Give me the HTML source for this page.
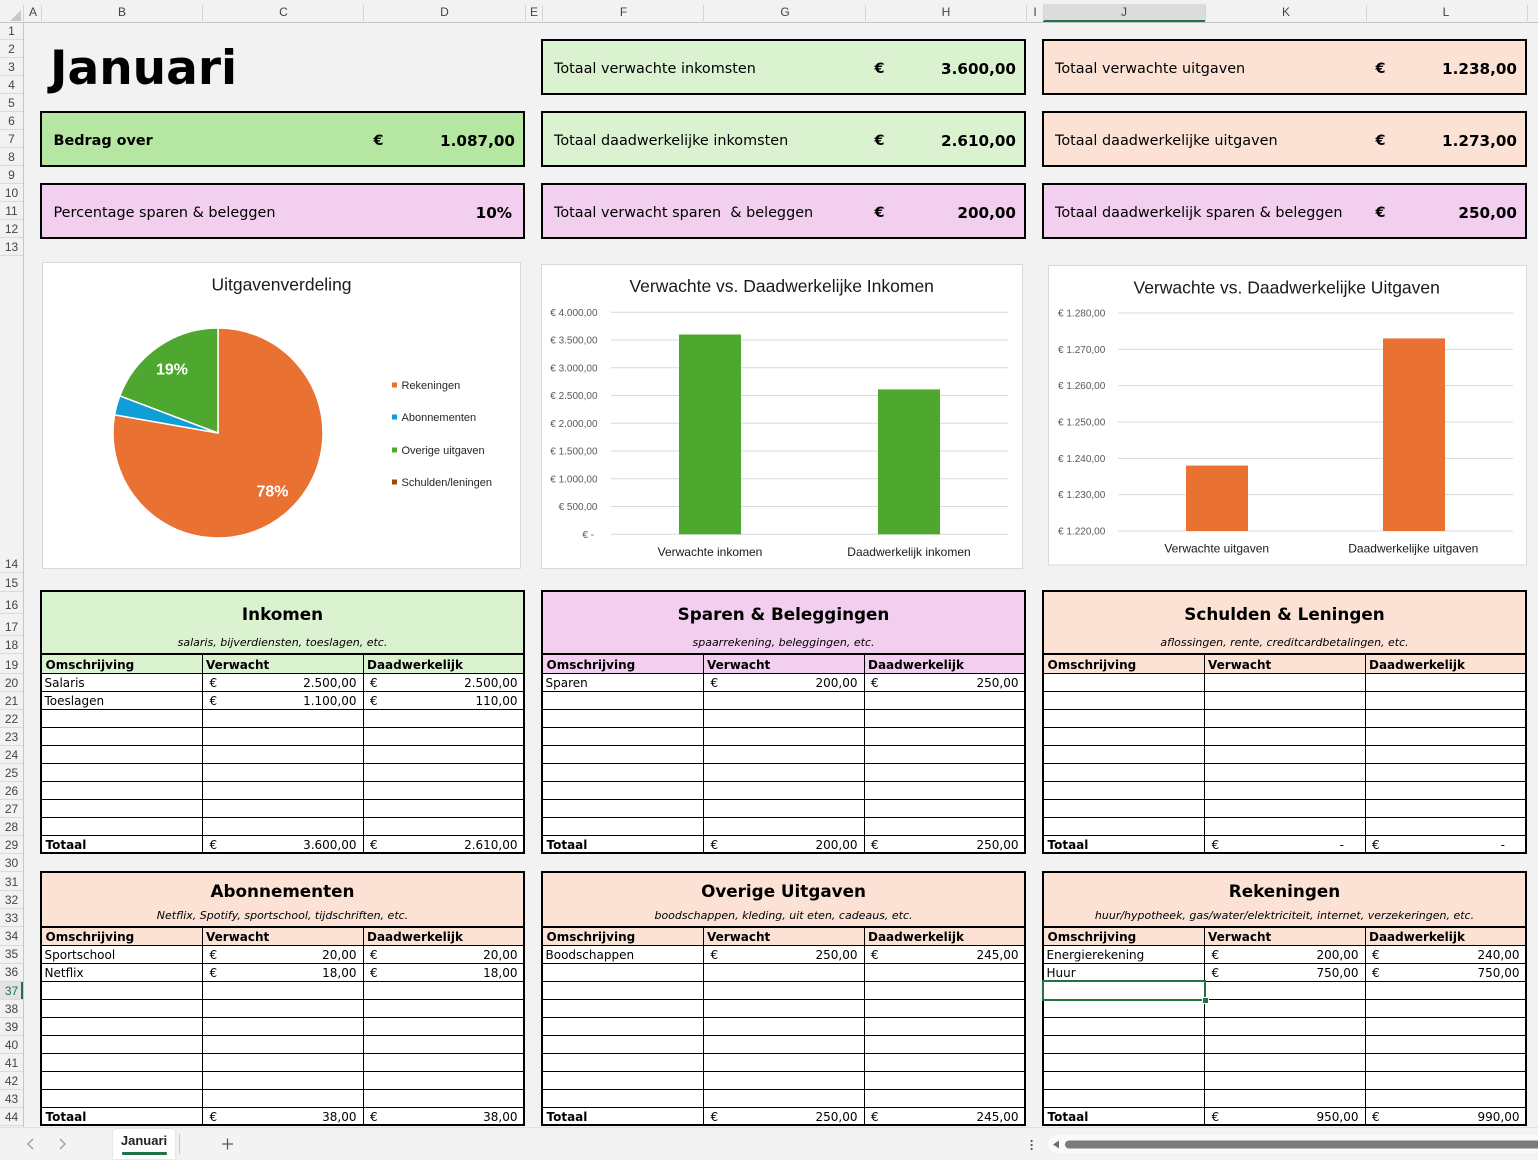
<!DOCTYPE html>
<html><head><meta charset="utf-8">
<style>
body{margin:0;width:1538px;height:1159px;background:#f2f2f2;position:relative;overflow:hidden;font-family:"DejaVu Sans",Verdana,sans-serif;color:#000;}
.a{position:absolute;}
.t{position:absolute;white-space:nowrap;height:20px;line-height:20px;}
.c14{font-size:14.4px;}
.v{font-size:15.2px;font-weight:bold;}
.c12{font-size:12px;}
.b{font-weight:bold;}
.card{position:absolute;box-sizing:border-box;border:2px solid #000;width:485px;height:56px;}
.box{position:absolute;box-sizing:border-box;border:2px solid #000;width:485px;background:#fff;}
.hl{position:absolute;height:1px;width:481px;background:#000;}
.vl{position:absolute;width:1px;background:#000;}
.ttl{position:absolute;width:485px;text-align:center;white-space:nowrap;height:24px;line-height:24px;font-size:16.8px;font-weight:bold;}
.sub{position:absolute;width:485px;text-align:center;white-space:nowrap;height:20px;line-height:20px;font-size:11px;font-style:italic;}
.rh{position:absolute;left:0;width:23px;text-align:center;height:16px;line-height:16px;font:12px "Liberation Sans",sans-serif;color:#444;margin-top:1px;}
.ch{position:absolute;top:5px;height:16px;line-height:16px;font:12px "Liberation Sans",sans-serif;color:#444;text-align:center;width:20px;margin-left:-10px;}
.rs{position:absolute;left:0;width:23px;height:1px;background:#dadada;}
.cs{position:absolute;top:5px;width:1px;height:16px;background:#d4d4d4;}
</style></head><body>

<!-- column header -->
<div class="a" style="left:0;top:0;width:1538px;height:22px;background:#f2f2f2;border-bottom:1px solid #c6c6c6;"></div>
<div class="a" style="left:1043px;top:4px;width:162px;height:18px;background:#dcdcdc;"></div>
<div class="a" style="left:1043px;top:20px;width:162px;height:2px;background:#217346;"></div>
<svg class="a" style="left:0;top:0" width="24" height="23"><polygon points="21,10 21,21 10,21" fill="#c8c8c8"/></svg>
<div class="cs" style="left:23px"></div><div class="cs" style="left:41px"></div><div class="cs" style="left:202px"></div><div class="cs" style="left:363px"></div><div class="cs" style="left:525px"></div><div class="cs" style="left:542px"></div><div class="cs" style="left:703px"></div><div class="cs" style="left:865px"></div><div class="cs" style="left:1026px"></div><div class="cs" style="left:1043px"></div><div class="cs" style="left:1205px"></div><div class="cs" style="left:1366px"></div><div class="cs" style="left:1527px"></div>
<div class="ch" style="left:33px">A</div><div class="ch" style="left:122px">B</div><div class="ch" style="left:283.5px">C</div><div class="ch" style="left:444.5px">D</div><div class="ch" style="left:534px">E</div><div class="ch" style="left:623.5px">F</div><div class="ch" style="left:785px">G</div><div class="ch" style="left:946px">H</div><div class="ch" style="left:1035px">I</div><div class="ch" style="left:1124px">J</div><div class="ch" style="left:1286px">K</div><div class="ch" style="left:1446px">L</div>

<!-- row header -->
<div class="a" style="left:23px;top:22px;width:1px;height:1105px;background:#c6c6c6;"></div>
<div class="a" style="left:0;top:981px;width:23px;height:18px;background:#e3e3e3;"></div>
<div class="a" style="left:21px;top:981px;width:2px;height:18px;background:#217346;"></div>
<div class="rh" style="top:23px">1</div><div class="rs" style="top:39px"></div>
<div class="rh" style="top:41px">2</div><div class="rs" style="top:57px"></div>
<div class="rh" style="top:59px">3</div><div class="rs" style="top:75px"></div>
<div class="rh" style="top:77px">4</div><div class="rs" style="top:93px"></div>
<div class="rh" style="top:95px">5</div><div class="rs" style="top:111px"></div>
<div class="rh" style="top:113px">6</div><div class="rs" style="top:129px"></div>
<div class="rh" style="top:131px">7</div><div class="rs" style="top:147px"></div>
<div class="rh" style="top:149px">8</div><div class="rs" style="top:165px"></div>
<div class="rh" style="top:167px">9</div><div class="rs" style="top:183px"></div>
<div class="rh" style="top:185px">10</div><div class="rs" style="top:201px"></div>
<div class="rh" style="top:203px">11</div><div class="rs" style="top:219px"></div>
<div class="rh" style="top:221px">12</div><div class="rs" style="top:237px"></div>
<div class="rh" style="top:239px">13</div><div class="rs" style="top:255px"></div>
<div class="rh" style="top:556px">14</div><div class="rs" style="top:572px"></div>
<div class="rh" style="top:575px">15</div><div class="rs" style="top:591px"></div>
<div class="rh" style="top:597px">16</div><div class="rs" style="top:613px"></div>
<div class="rh" style="top:619px">17</div><div class="rs" style="top:635px"></div>
<div class="rh" style="top:637px">18</div><div class="rs" style="top:653px"></div>
<div class="rh" style="top:657px">19</div><div class="rs" style="top:673px"></div>
<div class="rh" style="top:675px">20</div><div class="rs" style="top:691px"></div>
<div class="rh" style="top:693px">21</div><div class="rs" style="top:709px"></div>
<div class="rh" style="top:711px">22</div><div class="rs" style="top:727px"></div>
<div class="rh" style="top:729px">23</div><div class="rs" style="top:745px"></div>
<div class="rh" style="top:747px">24</div><div class="rs" style="top:763px"></div>
<div class="rh" style="top:765px">25</div><div class="rs" style="top:781px"></div>
<div class="rh" style="top:783px">26</div><div class="rs" style="top:799px"></div>
<div class="rh" style="top:801px">27</div><div class="rs" style="top:817px"></div>
<div class="rh" style="top:819px">28</div><div class="rs" style="top:835px"></div>
<div class="rh" style="top:837px">29</div><div class="rs" style="top:853px"></div>
<div class="rh" style="top:855px">30</div><div class="rs" style="top:871px"></div>
<div class="rh" style="top:874px">31</div><div class="rs" style="top:890px"></div>
<div class="rh" style="top:892px">32</div><div class="rs" style="top:908px"></div>
<div class="rh" style="top:910px">33</div><div class="rs" style="top:926px"></div>
<div class="rh" style="top:928px">34</div><div class="rs" style="top:945px"></div>
<div class="rh" style="top:946px">35</div><div class="rs" style="top:963px"></div>
<div class="rh" style="top:964px">36</div><div class="rs" style="top:981px"></div>
<div class="rh" style="top:983px;color:#217346">37</div><div class="rs" style="top:999px"></div>
<div class="rh" style="top:1001px">38</div><div class="rs" style="top:1017px"></div>
<div class="rh" style="top:1019px">39</div><div class="rs" style="top:1035px"></div>
<div class="rh" style="top:1037px">40</div><div class="rs" style="top:1053px"></div>
<div class="rh" style="top:1055px">41</div><div class="rs" style="top:1071px"></div>
<div class="rh" style="top:1073px">42</div><div class="rs" style="top:1089px"></div>
<div class="rh" style="top:1091px">43</div><div class="rs" style="top:1107px"></div>
<div class="rh" style="top:1109px">44</div><div class="rs" style="top:1125px"></div>

<!-- Title -->
<div class="a" style="left:50px;top:44px;height:50px;line-height:50px;font-size:47px;font-weight:bold;white-space:nowrap;">Januari</div>

<!-- Cards -->
<div class="card" style="left:541px;top:39px;background:#daf2d0"></div>
<div class="card" style="left:1042px;top:39px;background:#fbe2d5"></div>
<div class="card" style="left:40px;top:111px;background:#b5e6a2"></div>
<div class="card" style="left:541px;top:111px;background:#daf2d0"></div>
<div class="card" style="left:1042px;top:111px;background:#fbe2d5"></div>
<div class="card" style="left:40px;top:183px;background:#f2ceef"></div>
<div class="card" style="left:541px;top:183px;background:#f2ceef"></div>
<div class="card" style="left:1042px;top:183px;background:#f2ceef"></div>

<div class="t c14" style="left:554px;top:59px">Totaal verwachte inkomsten</div>
<div class="t c14 b" style="left:874.5px;top:59px">€</div>
<div class="t v" style="right:522px;top:59px">3.600,00</div>
<div class="t c14" style="left:1055px;top:59px">Totaal verwachte uitgaven</div>
<div class="t c14 b" style="left:1375.5px;top:59px">€</div>
<div class="t v" style="right:21px;top:59px">1.238,00</div>

<div class="t c14 b" style="left:53.5px;top:131px">Bedrag over</div>
<div class="t c14 b" style="left:373.5px;top:131px">€</div>
<div class="t v" style="right:1023px;top:131px">1.087,00</div>
<div class="t c14" style="left:554px;top:131px">Totaal daadwerkelijke inkomsten</div>
<div class="t c14 b" style="left:874.5px;top:131px">€</div>
<div class="t v" style="right:522px;top:131px">2.610,00</div>
<div class="t c14" style="left:1055px;top:131px">Totaal daadwerkelijke uitgaven</div>
<div class="t c14 b" style="left:1375.5px;top:131px">€</div>
<div class="t v" style="right:21px;top:131px">1.273,00</div>

<div class="t c14" style="left:53.5px;top:203px">Percentage sparen &amp; beleggen</div>
<div class="t v" style="right:1026px;top:203px">10%</div>
<div class="t c14" style="left:554px;top:203px">Totaal verwacht sparen &nbsp;&amp; beleggen</div>
<div class="t c14 b" style="left:874.5px;top:203px">€</div>
<div class="t v" style="right:522px;top:203px">200,00</div>
<div class="t c14" style="left:1055px;top:203px">Totaal daadwerkelijk sparen &amp; beleggen</div>
<div class="t c14 b" style="left:1375.5px;top:203px">€</div>
<div class="t v" style="right:21px;top:203px">250,00</div>

<!-- ===== TOP TABLES ===== -->
<!-- Inkomen L=40 -->
<div class="box" style="left:40px;top:590px;height:264px"></div>
<div class="a" style="left:42px;top:592px;width:481px;height:61px;background:#daf2d0"></div>
<div class="a" style="left:42px;top:653px;width:481px;height:2px;background:#000"></div>
<div class="a" style="left:42px;top:655px;width:481px;height:18px;background:#daf2d0"></div>
<div class="hl" style="left:42px;top:673px"></div><div class="hl" style="left:42px;top:691px"></div><div class="hl" style="left:42px;top:709px"></div><div class="hl" style="left:42px;top:727px"></div><div class="hl" style="left:42px;top:745px"></div><div class="hl" style="left:42px;top:763px"></div><div class="hl" style="left:42px;top:781px"></div><div class="hl" style="left:42px;top:799px"></div><div class="hl" style="left:42px;top:817px"></div><div class="hl" style="left:42px;top:835px"></div>
<div class="vl" style="left:202px;top:655px;height:197px"></div><div class="vl" style="left:363px;top:655px;height:197px"></div>
<div class="ttl" style="left:40px;top:602px">Inkomen</div>
<div class="sub" style="left:40px;top:633px">salaris, bijverdiensten, toeslagen, etc.</div>
<div class="t c12 b" style="left:45.5px;top:655px">Omschrijving</div>
<div class="t c12 b" style="left:206px;top:655px">Verwacht</div>
<div class="t c12 b" style="left:367px;top:655px">Daadwerkelijk</div>
<div class="t c12" style="left:44.5px;top:672.5px">Salaris</div>
<div class="t c12" style="left:209.5px;top:672.5px">€</div>
<div class="t c12" style="right:1181.5px;top:672.5px">2.500,00</div>
<div class="t c12" style="left:370px;top:672.5px">€</div>
<div class="t c12" style="right:1020.5px;top:672.5px">2.500,00</div>
<div class="t c12" style="left:44.5px;top:690.5px">Toeslagen</div>
<div class="t c12" style="left:209.5px;top:690.5px">€</div>
<div class="t c12" style="right:1181.5px;top:690.5px">1.100,00</div>
<div class="t c12" style="left:370px;top:690.5px">€</div>
<div class="t c12" style="right:1020.5px;top:690.5px">110,00</div>
<div class="t c12 b" style="left:45.5px;top:834.5px">Totaal</div>
<div class="t c12" style="left:209.5px;top:834.5px">€</div>
<div class="t c12" style="right:1181.5px;top:834.5px">3.600,00</div>
<div class="t c12" style="left:370px;top:834.5px">€</div>
<div class="t c12" style="right:1020.5px;top:834.5px">2.610,00</div>

<!-- Sparen L=541 -->
<div class="box" style="left:541px;top:590px;height:264px"></div>
<div class="a" style="left:543px;top:592px;width:481px;height:61px;background:#f2ceef"></div>
<div class="a" style="left:543px;top:653px;width:481px;height:2px;background:#000"></div>
<div class="a" style="left:543px;top:655px;width:481px;height:18px;background:#f2ceef"></div>
<div class="hl" style="left:543px;top:673px"></div><div class="hl" style="left:543px;top:691px"></div><div class="hl" style="left:543px;top:709px"></div><div class="hl" style="left:543px;top:727px"></div><div class="hl" style="left:543px;top:745px"></div><div class="hl" style="left:543px;top:763px"></div><div class="hl" style="left:543px;top:781px"></div><div class="hl" style="left:543px;top:799px"></div><div class="hl" style="left:543px;top:817px"></div><div class="hl" style="left:543px;top:835px"></div>
<div class="vl" style="left:703px;top:655px;height:197px"></div><div class="vl" style="left:864px;top:655px;height:197px"></div>
<div class="ttl" style="left:541px;top:602px">Sparen &amp; Beleggingen</div>
<div class="sub" style="left:541px;top:633px">spaarrekening, beleggingen, etc.</div>
<div class="t c12 b" style="left:546.5px;top:655px">Omschrijving</div>
<div class="t c12 b" style="left:707px;top:655px">Verwacht</div>
<div class="t c12 b" style="left:868px;top:655px">Daadwerkelijk</div>
<div class="t c12" style="left:545.5px;top:672.5px">Sparen</div>
<div class="t c12" style="left:710.5px;top:672.5px">€</div>
<div class="t c12" style="right:680.5px;top:672.5px">200,00</div>
<div class="t c12" style="left:871px;top:672.5px">€</div>
<div class="t c12" style="right:519.5px;top:672.5px">250,00</div>
<div class="t c12 b" style="left:546.5px;top:834.5px">Totaal</div>
<div class="t c12" style="left:710.5px;top:834.5px">€</div>
<div class="t c12" style="right:680.5px;top:834.5px">200,00</div>
<div class="t c12" style="left:871px;top:834.5px">€</div>
<div class="t c12" style="right:519.5px;top:834.5px">250,00</div>

<!-- Schulden L=1042 -->
<div class="box" style="left:1042px;top:590px;height:264px"></div>
<div class="a" style="left:1044px;top:592px;width:481px;height:61px;background:#fbe2d5"></div>
<div class="a" style="left:1044px;top:653px;width:481px;height:2px;background:#000"></div>
<div class="a" style="left:1044px;top:655px;width:481px;height:18px;background:#fbe2d5"></div>
<div class="hl" style="left:1044px;top:673px"></div><div class="hl" style="left:1044px;top:691px"></div><div class="hl" style="left:1044px;top:709px"></div><div class="hl" style="left:1044px;top:727px"></div><div class="hl" style="left:1044px;top:745px"></div><div class="hl" style="left:1044px;top:763px"></div><div class="hl" style="left:1044px;top:781px"></div><div class="hl" style="left:1044px;top:799px"></div><div class="hl" style="left:1044px;top:817px"></div><div class="hl" style="left:1044px;top:835px"></div>
<div class="vl" style="left:1204px;top:655px;height:197px"></div><div class="vl" style="left:1365px;top:655px;height:197px"></div>
<div class="ttl" style="left:1042px;top:602px">Schulden &amp; Leningen</div>
<div class="sub" style="left:1042px;top:633px">aflossingen, rente, creditcardbetalingen, etc.</div>
<div class="t c12 b" style="left:1047.5px;top:655px">Omschrijving</div>
<div class="t c12 b" style="left:1208px;top:655px">Verwacht</div>
<div class="t c12 b" style="left:1369px;top:655px">Daadwerkelijk</div>
<div class="t c12 b" style="left:1047.5px;top:834.5px">Totaal</div>
<div class="t c12" style="left:1211.5px;top:834.5px">€</div>
<div class="t c12" style="right:194px;top:834.5px">-</div>
<div class="t c12" style="left:1372px;top:834.5px">€</div>
<div class="t c12" style="right:33px;top:834.5px">-</div>

<!-- ===== BOTTOM TABLES ===== -->
<!-- Abonnementen L=40 -->
<div class="box" style="left:40px;top:871px;height:255px"></div>
<div class="a" style="left:42px;top:873px;width:481px;height:53px;background:#fbe2d5"></div>
<div class="a" style="left:42px;top:926px;width:481px;height:2px;background:#000"></div>
<div class="a" style="left:42px;top:928px;width:481px;height:17px;background:#fbe2d5"></div>
<div class="hl" style="left:42px;top:945px"></div><div class="hl" style="left:42px;top:963px"></div><div class="hl" style="left:42px;top:981px"></div><div class="hl" style="left:42px;top:999px"></div><div class="hl" style="left:42px;top:1017px"></div><div class="hl" style="left:42px;top:1035px"></div><div class="hl" style="left:42px;top:1053px"></div><div class="hl" style="left:42px;top:1071px"></div><div class="hl" style="left:42px;top:1089px"></div><div class="hl" style="left:42px;top:1107px"></div>
<div class="vl" style="left:202px;top:928px;height:196px"></div><div class="vl" style="left:363px;top:928px;height:196px"></div>
<div class="ttl" style="left:40px;top:879px">Abonnementen</div>
<div class="sub" style="left:40px;top:906px">Netflix, Spotify, sportschool, tijdschriften, etc.</div>
<div class="t c12 b" style="left:45.5px;top:927px">Omschrijving</div>
<div class="t c12 b" style="left:206px;top:927px">Verwacht</div>
<div class="t c12 b" style="left:367px;top:927px">Daadwerkelijk</div>
<div class="t c12" style="left:44.5px;top:944.5px">Sportschool</div>
<div class="t c12" style="left:209.5px;top:944.5px">€</div>
<div class="t c12" style="right:1181.5px;top:944.5px">20,00</div>
<div class="t c12" style="left:370px;top:944.5px">€</div>
<div class="t c12" style="right:1020.5px;top:944.5px">20,00</div>
<div class="t c12" style="left:44.5px;top:962.5px">Netflix</div>
<div class="t c12" style="left:209.5px;top:962.5px">€</div>
<div class="t c12" style="right:1181.5px;top:962.5px">18,00</div>
<div class="t c12" style="left:370px;top:962.5px">€</div>
<div class="t c12" style="right:1020.5px;top:962.5px">18,00</div>
<div class="t c12 b" style="left:45.5px;top:1106.5px">Totaal</div>
<div class="t c12" style="left:209.5px;top:1106.5px">€</div>
<div class="t c12" style="right:1181.5px;top:1106.5px">38,00</div>
<div class="t c12" style="left:370px;top:1106.5px">€</div>
<div class="t c12" style="right:1020.5px;top:1106.5px">38,00</div>

<!-- Overige L=541 -->
<div class="box" style="left:541px;top:871px;height:255px"></div>
<div class="a" style="left:543px;top:873px;width:481px;height:53px;background:#fbe2d5"></div>
<div class="a" style="left:543px;top:926px;width:481px;height:2px;background:#000"></div>
<div class="a" style="left:543px;top:928px;width:481px;height:17px;background:#fbe2d5"></div>
<div class="hl" style="left:543px;top:945px"></div><div class="hl" style="left:543px;top:963px"></div><div class="hl" style="left:543px;top:981px"></div><div class="hl" style="left:543px;top:999px"></div><div class="hl" style="left:543px;top:1017px"></div><div class="hl" style="left:543px;top:1035px"></div><div class="hl" style="left:543px;top:1053px"></div><div class="hl" style="left:543px;top:1071px"></div><div class="hl" style="left:543px;top:1089px"></div><div class="hl" style="left:543px;top:1107px"></div>
<div class="vl" style="left:703px;top:928px;height:196px"></div><div class="vl" style="left:864px;top:928px;height:196px"></div>
<div class="ttl" style="left:541px;top:879px">Overige Uitgaven</div>
<div class="sub" style="left:541px;top:906px">boodschappen, kleding, uit eten, cadeaus, etc.</div>
<div class="t c12 b" style="left:546.5px;top:927px">Omschrijving</div>
<div class="t c12 b" style="left:707px;top:927px">Verwacht</div>
<div class="t c12 b" style="left:868px;top:927px">Daadwerkelijk</div>
<div class="t c12" style="left:545.5px;top:944.5px">Boodschappen</div>
<div class="t c12" style="left:710.5px;top:944.5px">€</div>
<div class="t c12" style="right:680.5px;top:944.5px">250,00</div>
<div class="t c12" style="left:871px;top:944.5px">€</div>
<div class="t c12" style="right:519.5px;top:944.5px">245,00</div>
<div class="t c12 b" style="left:546.5px;top:1106.5px">Totaal</div>
<div class="t c12" style="left:710.5px;top:1106.5px">€</div>
<div class="t c12" style="right:680.5px;top:1106.5px">250,00</div>
<div class="t c12" style="left:871px;top:1106.5px">€</div>
<div class="t c12" style="right:519.5px;top:1106.5px">245,00</div>

<!-- Rekeningen L=1042 -->
<div class="box" style="left:1042px;top:871px;height:255px"></div>
<div class="a" style="left:1044px;top:873px;width:481px;height:53px;background:#fbe2d5"></div>
<div class="a" style="left:1044px;top:926px;width:481px;height:2px;background:#000"></div>
<div class="a" style="left:1044px;top:928px;width:481px;height:17px;background:#fbe2d5"></div>
<div class="hl" style="left:1044px;top:945px"></div><div class="hl" style="left:1044px;top:963px"></div><div class="hl" style="left:1044px;top:981px"></div><div class="hl" style="left:1044px;top:999px"></div><div class="hl" style="left:1044px;top:1017px"></div><div class="hl" style="left:1044px;top:1035px"></div><div class="hl" style="left:1044px;top:1053px"></div><div class="hl" style="left:1044px;top:1071px"></div><div class="hl" style="left:1044px;top:1089px"></div><div class="hl" style="left:1044px;top:1107px"></div>
<div class="vl" style="left:1204px;top:928px;height:196px"></div><div class="vl" style="left:1365px;top:928px;height:196px"></div>
<div class="ttl" style="left:1042px;top:879px">Rekeningen</div>
<div class="sub" style="left:1042px;top:906px">huur/hypotheek, gas/water/elektriciteit, internet, verzekeringen, etc.</div>
<div class="t c12 b" style="left:1047.5px;top:927px">Omschrijving</div>
<div class="t c12 b" style="left:1208px;top:927px">Verwacht</div>
<div class="t c12 b" style="left:1369px;top:927px">Daadwerkelijk</div>
<div class="t c12" style="left:1046.5px;top:944.5px">Energierekening</div>
<div class="t c12" style="left:1211.5px;top:944.5px">€</div>
<div class="t c12" style="right:179.5px;top:944.5px">200,00</div>
<div class="t c12" style="left:1372px;top:944.5px">€</div>
<div class="t c12" style="right:18.5px;top:944.5px">240,00</div>
<div class="t c12" style="left:1046.5px;top:962.5px">Huur</div>
<div class="t c12" style="left:1211.5px;top:962.5px">€</div>
<div class="t c12" style="right:179.5px;top:962.5px">750,00</div>
<div class="t c12" style="left:1372px;top:962.5px">€</div>
<div class="t c12" style="right:18.5px;top:962.5px">750,00</div>
<div class="t c12 b" style="left:1047.5px;top:1106.5px">Totaal</div>
<div class="t c12" style="left:1211.5px;top:1106.5px">€</div>
<div class="t c12" style="right:179.5px;top:1106.5px">950,00</div>
<div class="t c12" style="left:1372px;top:1106.5px">€</div>
<div class="t c12" style="right:18.5px;top:1106.5px">990,00</div>

<!-- selected cell J37 -->
<div class="a" style="left:1042px;top:980px;width:164px;height:21px;box-sizing:border-box;border:2px solid #217346;"></div>
<div class="a" style="left:1202.5px;top:997.5px;width:5px;height:5px;background:#217346;outline:1px solid #fff;"></div>

<!-- tab bar -->
<div class="a" style="left:0;top:1127px;width:1538px;height:32px;background:#f3f3f3;border-top:1px solid #e1e1e1;"></div>
<div class="a" style="left:113px;top:1129px;width:62px;height:30px;background:#fff;border-radius:3px 3px 0 0;box-shadow:0 0 2px rgba(0,0,0,0.15);"></div>
<div class="a" style="left:113px;top:1133px;width:62px;height:20px;line-height:20px;text-align:center;font:bold 13px 'Liberation Sans',sans-serif;color:#222;">Januari</div>
<div class="a" style="left:122px;top:1152px;width:45px;height:2.5px;background:#217346;border-radius:1px;"></div>
<div class="a" style="left:179px;top:1134px;width:1px;height:20px;background:#c8c8c8;"></div>
<div class="a" style="left:1048px;top:1135px;width:490px;height:18px;background:#fafafa;border-radius:9px 0 0 9px;"></div>

<svg class="a" style="left:0;top:0" width="1538" height="1159" font-family="'Liberation Sans',Arial,sans-serif">
 <!-- tab bar icons -->
 <polyline points="33,1139 28,1144 33,1149" fill="none" stroke="#9a9a9a" stroke-width="1.3"/>
 <polyline points="60,1139 65,1144 60,1149" fill="none" stroke="#9a9a9a" stroke-width="1.3"/>
 <line x1="222" y1="1144" x2="233" y2="1144" stroke="#555" stroke-width="1.2"/>
 <line x1="227.5" y1="1138.5" x2="227.5" y2="1149.5" stroke="#555" stroke-width="1.2"/>
 <circle cx="1031.6" cy="1141" r="1.1" fill="#555"/><circle cx="1031.6" cy="1145" r="1.1" fill="#555"/><circle cx="1031.6" cy="1149" r="1.1" fill="#555"/>
 <polygon points="1059,1140.5 1053,1144.5 1059,1148.5" fill="#6e6e6e"/>
 <rect x="1065" y="1140.5" width="480" height="8" rx="4" fill="#7b7b7b"/>

 <!-- Pie chart -->
 <rect x="42.5" y="262.5" width="478" height="306" fill="#fff" stroke="#d9d9d9"/>
 <text x="281.5" y="290.5" text-anchor="middle" font-size="17.5" fill="#1a1a1a">Uitgavenverdeling</text>
 <path d="M218,433 L218,328 A105,105 0 1,1 114.59,414.82 Z" fill="#e97132" stroke="#fff" stroke-width="1.5"/>
 <path d="M218,433 L114.59,414.82 A105,105 0 0,1 119.79,395.86 Z" fill="#0f9ed5" stroke="#fff" stroke-width="1.5"/>
 <path d="M218,433 L119.79,395.86 A105,105 0 0,1 218,328 Z" fill="#4ea72e" stroke="#fff" stroke-width="1.5"/>
 <text x="172" y="374.7" text-anchor="middle" font-size="16" font-weight="bold" fill="#fff">19%</text>
 <text x="272.5" y="496.5" text-anchor="middle" font-size="16" font-weight="bold" fill="#fff">78%</text>
 <rect x="392" y="382.5" width="5" height="5" fill="#e97132"/>
 <text x="401.5" y="388.9" font-size="11" fill="#262626">Rekeningen</text>
 <rect x="392" y="414.5" width="5" height="5" fill="#0f9ed5"/>
 <text x="401.5" y="420.9" font-size="11" fill="#262626">Abonnementen</text>
 <rect x="392" y="447.5" width="5" height="5" fill="#4ea72e"/>
 <text x="401.5" y="453.9" font-size="11" fill="#262626">Overige uitgaven</text>
 <rect x="392" y="479.5" width="5" height="5" fill="#9e480e"/>
 <text x="401.5" y="485.9" font-size="11" fill="#262626">Schulden/leningen</text>

 <!-- Income bar chart -->
 <rect x="541.5" y="264.5" width="481" height="304" fill="#fff" stroke="#d9d9d9"/>
 <text x="781.7" y="292.1" text-anchor="middle" font-size="17.5" fill="#1a1a1a">Verwachte vs. Daadwerkelijke Inkomen</text>
 <g stroke="#d9d9d9" stroke-width="1">
  <line x1="611" y1="312.3" x2="1008" y2="312.3"/>
  <line x1="611" y1="340.05" x2="1008" y2="340.05"/>
  <line x1="611" y1="367.8" x2="1008" y2="367.8"/>
  <line x1="611" y1="395.55" x2="1008" y2="395.55"/>
  <line x1="611" y1="423.3" x2="1008" y2="423.3"/>
  <line x1="611" y1="451.05" x2="1008" y2="451.05"/>
  <line x1="611" y1="478.8" x2="1008" y2="478.8"/>
  <line x1="611" y1="506.55" x2="1008" y2="506.55"/>
  <line x1="611" y1="534.3" x2="1008" y2="534.3"/>
 </g>
 <g font-size="10" fill="#595959" text-anchor="end">
  <text x="597.5" y="315.8">€ 4.000,00</text>
  <text x="597.5" y="343.5">€ 3.500,00</text>
  <text x="597.5" y="371.3">€ 3.000,00</text>
  <text x="597.5" y="399">€ 2.500,00</text>
  <text x="597.5" y="426.8">€ 2.000,00</text>
  <text x="597.5" y="454.5">€ 1.500,00</text>
  <text x="597.5" y="482.3">€ 1.000,00</text>
  <text x="597.5" y="510">€ 500,00</text>
  <text x="594" y="537.8">€ -</text>
 </g>
 <rect x="679" y="334.5" width="62" height="199.8" fill="#4ea72e"/>
 <rect x="878" y="389.4" width="62" height="144.9" fill="#4ea72e"/>
 <text x="710" y="556" text-anchor="middle" font-size="12" fill="#1a1a1a">Verwachte inkomen</text>
 <text x="909" y="556" text-anchor="middle" font-size="12" fill="#1a1a1a">Daadwerkelijk inkomen</text>

 <!-- Expense bar chart -->
 <rect x="1048.5" y="265.5" width="478" height="299.5" fill="#fff" stroke="#d9d9d9"/>
 <text x="1286.7" y="293.4" text-anchor="middle" font-size="17.5" fill="#1a1a1a">Verwachte vs. Daadwerkelijke Uitgaven</text>
 <g stroke="#d9d9d9" stroke-width="1">
  <line x1="1118" y1="313" x2="1513" y2="313"/>
  <line x1="1118" y1="349.33" x2="1513" y2="349.33"/>
  <line x1="1118" y1="385.67" x2="1513" y2="385.67"/>
  <line x1="1118" y1="422" x2="1513" y2="422"/>
  <line x1="1118" y1="458.33" x2="1513" y2="458.33"/>
  <line x1="1118" y1="494.67" x2="1513" y2="494.67"/>
  <line x1="1118" y1="531" x2="1513" y2="531"/>
 </g>
 <g font-size="10" fill="#595959" text-anchor="end">
  <text x="1105.3" y="316.5">€ 1.280,00</text>
  <text x="1105.3" y="352.8">€ 1.270,00</text>
  <text x="1105.3" y="389.2">€ 1.260,00</text>
  <text x="1105.3" y="425.5">€ 1.250,00</text>
  <text x="1105.3" y="461.8">€ 1.240,00</text>
  <text x="1105.3" y="498.2">€ 1.230,00</text>
  <text x="1105.3" y="534.5">€ 1.220,00</text>
 </g>
 <rect x="1186" y="465.6" width="62" height="65.4" fill="#e97132"/>
 <rect x="1383" y="338.4" width="62" height="192.6" fill="#e97132"/>
 <text x="1216.7" y="552.5" text-anchor="middle" font-size="12" fill="#1a1a1a">Verwachte uitgaven</text>
 <text x="1413.3" y="552.5" text-anchor="middle" font-size="12" fill="#1a1a1a">Daadwerkelijke uitgaven</text>
</svg>
</body></html>
